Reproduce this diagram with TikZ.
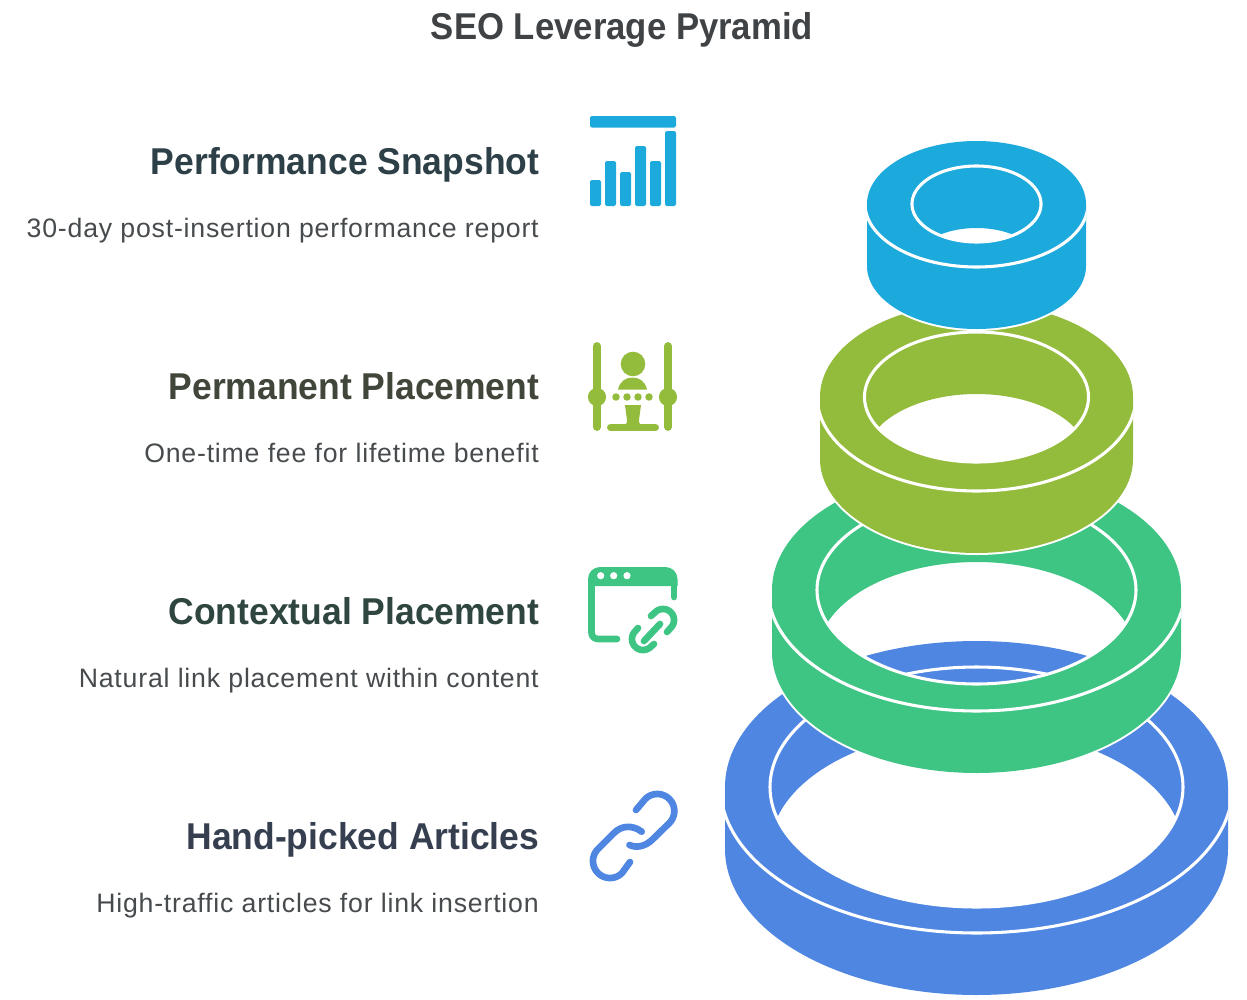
\documentclass[tikz,border=0pt]{standalone}
\usepackage{fontspec}
\setmainfont{Liberation Sans}
\newfontfamily\headfont[FakeStretch=0.95]{Liberation Sans}
\newfontfamily\titlefont[FakeStretch=0.93]{Liberation Sans}
\newfontfamily\descfont[LetterSpace=3]{Liberation Sans}
\definecolor{cCyan}{HTML}{1CA9DC}
\definecolor{cOlive}{HTML}{94BC3C}
\definecolor{cGreen}{HTML}{3EC583}
\definecolor{cBlue}{HTML}{4F86E2}
\definecolor{tTitle}{HTML}{404346}
\definecolor{tOne}{HTML}{2E4047}
\definecolor{tTwo}{HTML}{41463A}
\definecolor{tThree}{HTML}{2F4540}
\definecolor{tFour}{HTML}{363F50}
\definecolor{tDesc}{HTML}{474B4D}
\tikzset{
  heading/.style={anchor=base east,inner sep=0pt,font=\headfont\bfseries\fontsize{28}{32}\selectfont},
  desc/.style={anchor=base east,inner sep=0pt,font=\descfont\fontsize{20}{24}\selectfont,text=tDesc},
  iconline/.style={line width=5pt,line cap=round,line join=round,draw=#1},
}
% colour, cy, rx, ry, inner rx, inner ry, height, hole shift
\newcommand{\ringshape}[8]{%
  \pgfmathsetmacro{\tone}{asin((#8/2)/#6)}%
  \pgfmathsetmacro{\ttwo}{180-\tone}%
  \pgfmathsetmacro{\tthr}{180+\tone}%
  \pgfmathsetmacro{\tfou}{360-\tone}%
  \pgfmathsetmacro{\rxline}{#3*1.018}%
  \draw[white,line width=3pt,line join=round]
    plot[domain=180:360,samples=121] ({976.5+#3*cos(\x)},{#2+#4*sin(\x)})
    -- plot[domain=0:180,samples=121] ({976.5+#3*cos(\x)},{#2+#7+#4*sin(\x)}) -- cycle;
  \fill[#1,even odd rule]
    plot[domain=180:360,samples=121] ({976.5+#3*cos(\x)},{#2+#4*sin(\x)})
    -- plot[domain=0:180,samples=121] ({976.5+#3*cos(\x)},{#2+#7+#4*sin(\x)}) -- cycle
    plot[domain=\tone:\ttwo,samples=121] ({976.5+#5*cos(\x)},{#2+#6*sin(\x)})
    -- plot[domain=\tthr:\tfou,samples=121] ({976.5+#5*cos(\x)},{#2+#8+#6*sin(\x)}) -- cycle;
  \begin{scope}
    \clip plot[domain=180:360,samples=121] ({976.5+#3*cos(\x)},{#2+#4*sin(\x)})
      -- plot[domain=0:180,samples=121] ({976.5+#3*cos(\x)},{#2+#7+#4*sin(\x)}) -- cycle;
    \draw[white,line width=2.3pt]
      plot[domain=0:180,samples=121] ({976.5+\rxline*cos(\x)},{#2+#4*sin(\x)});
  \end{scope}
  \draw[white,line width=2.3pt]
    plot[domain=0:360,samples=181] ({976.5+#5*cos(\x)},{#2+#6*sin(\x)}) -- cycle;
}
\begin{document}
\begin{tikzpicture}[x=0.75pt,y=-0.75pt]
\useasboundingbox (0,0) rectangle (1247,1000);
\fill[white] (0,0) rectangle (1247,1000);

% rings, lowest first
\ringshape{cBlue}{787}{251.5}{146}{206.5}{120}{62}{62}
\ringshape{cGreen}{590}{204.5}{121}{159.5}{94}{62}{66}
\ringshape{cOlive}{397}{156.5}{94}{112}{65}{62}{62}
\ringshape{cCyan}{204}{109.5}{63}{64.5}{38}{62}{62}

% title
\node[anchor=base,inner sep=0pt,font=\titlefont\bfseries\fontsize{28}{32}\selectfont,text=tTitle] (title) at (622,39) {SEO Leverage Pyramid};

% labels
\node[heading,text=tOne] (h1) at (539.5,174) {Performance Snapshot};
\node[desc] (d1) at (539,237) {30-day post-insertion performance report};
\node[heading,text=tTwo] (h2) at (539.5,399) {Permanent Placement};
\node[desc] (d2) at (539,462) {One-time fee for lifetime benefit};
\node[heading,text=tThree] (h3) at (539.5,624) {Contextual Placement};
\node[desc] (d3) at (539,687) {Natural link placement within content};
\node[heading,text=tFour] (h4) at (539.5,849) {Hand-picked Articles};
\node[desc] (d4) at (539,912) {High-traffic articles for link insertion};

% icon: performance
\begin{scope}[cCyan]
\fill[rounded corners=1.2pt] (590,116) rectangle (676,127.5);
\fill[rounded corners=1.2pt] (590,180) rectangle (601,206);
\fill[rounded corners=1.2pt] (605,161) rectangle (616,206);
\fill[rounded corners=1.2pt] (620,172) rectangle (631,206);
\fill[rounded corners=1.2pt] (635,146) rectangle (646,206);
\fill[rounded corners=1.2pt] (650,161) rectangle (661,206);
\fill[rounded corners=1.2pt] (665,131) rectangle (676,206);
\end{scope}

% icon: permanent
\begin{scope}[cOlive]
\draw[line width=5.8pt,line cap=round,draw=cOlive] (597,346) -- (597,427);
\draw[line width=5.8pt,line cap=round,draw=cOlive] (668,346) -- (668,427);
\fill (597,397) circle[radius=6.8pt];
\fill (668,397) circle[radius=6.8pt];
\fill (633,364) circle[radius=9.2pt];
\fill (618,389.5) .. controls (620,381) and (626,377.5) .. (632.5,377.5)
      .. controls (639,377.5) and (645,381) .. (647,389.5) -- cycle;
\foreach \dx in {616,627,638,649} \fill (\dx,397) circle[radius=2.8pt];
\fill (625,405) -- (641,405) -- (639,420) .. controls (638.5,424) and (641,425) .. (644,426)
      -- (622,426) .. controls (625,425) and (627.5,424) .. (627,420) -- cycle;
\draw[line width=5.2pt,line cap=round,draw=cOlive] (610.5,427.5) -- (655.5,427.5);
\end{scope}

% icon: contextual
\fill[cGreen] (588,586) -- (588,579) .. controls (588,572.4) and (593.4,567) .. (600,567)
  -- (665.5,567) .. controls (672.1,567) and (677.5,572.4) .. (677.5,579) -- (677.5,586) -- cycle;
\draw[iconline=cGreen] (591.5,580) -- (591.5,632) .. controls (591.5,636.5) and (594,639) .. (598.5,639) -- (617,639);
\draw[iconline=cGreen] (674,580) -- (674,597);
\foreach \dx in {600.7,613.7,627} \fill[white] (\dx,575.7) circle[radius=2.7pt];
\draw[iconline=cGreen] (667,632) -- plot[domain=405:225,samples=30] ({663+11*cos(\x)},{620+11*sin(\x)}) -- (651,616);
\draw[iconline=cGreen] (654,644) -- plot[domain=45:225,samples=30] ({643+11*cos(\x)},{639+11*sin(\x)}) -- (638,628);
\draw[iconline=cGreen] (644,641) -- (660,624);

% icon: hand-picked
\draw[iconline=cBlue] (636,810) -- plot[domain=225:405,samples=40] ({657.3+17*cos(\x)},{811+17*sin(\x)})
  -- (653,839) .. controls (645,847) and (636,848) .. (629.5,845);
\draw[iconline=cBlue] (630,862) -- plot[domain=45:225,samples=40] ({610+17*cos(\x)},{861+17*sin(\x)})
  -- (614,833) .. controls (622,825) and (633,825) .. (641.7,831.7);
\end{tikzpicture}
\end{document}
